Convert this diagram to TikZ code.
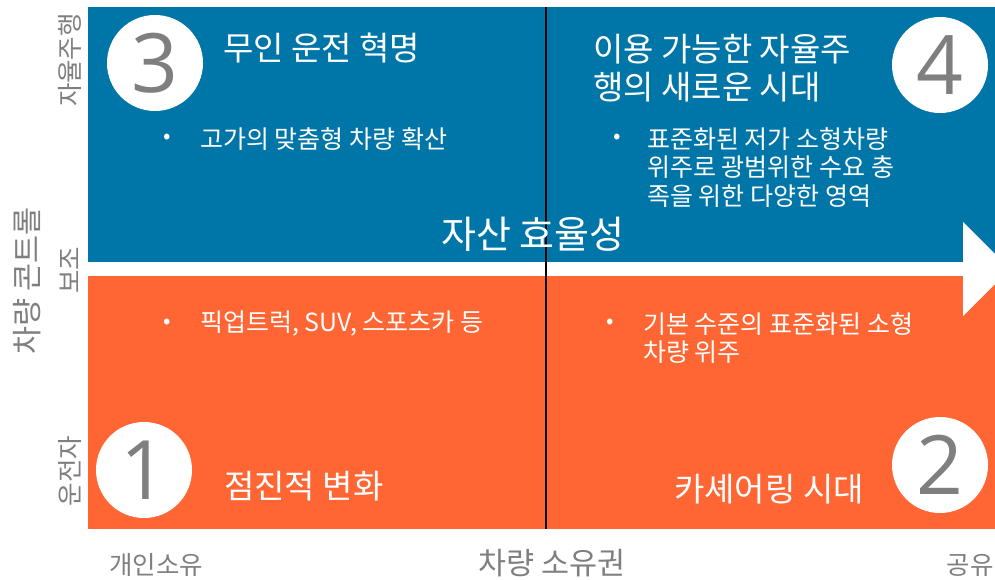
\documentclass[tikz,border=0pt]{standalone}
\usepackage{fontspec}
\setmainfont{Noto Sans CJK KR}
\newfontfamily\numfont{Open Sans}
\definecolor{qblue}{HTML}{0076A8}
\definecolor{qorange}{HTML}{FF6633}
\definecolor{qgray}{HTML}{7F7F7F}
\tikzset{
  numcircle/.style={circle, fill=white, minimum size=96pt, inner sep=0pt, text=qgray, font=\numfont\fontsize{82}{82}\selectfont},
  title/.style={text=white, inner sep=0pt, anchor=west, font=\fontsize{33}{38}\selectfont, align=left},
  bulletdot/.style={text=white, inner sep=0pt, font=\fontsize{22}{22}\selectfont},
  bodytext/.style={text=white, inner sep=0pt, anchor=north west, font=\fontsize{25}{28.5}\selectfont, align=left},
  axislabel/.style={text=qgray, inner sep=0pt, font=\fontsize{25.5}{25.5}\selectfont},
  axistitle/.style={text=qgray, inner sep=0pt, font=\fontsize{30.5}{31}\selectfont}
}
\begin{document}
\begin{tikzpicture}[x=1pt,y=-1pt]
\useasboundingbox (0,0) rectangle (995,579);
\clip (0,0) rectangle (995,579);
% quadrants
\fill[qblue] (88,7) rectangle (995,262);
\fill[qorange] (88,276) rectangle (995,529);
% arrow head
\fill[white] (963,222) -- (1010,269) -- (963,316) -- cycle;
% vertical divider
\coordinate (vtop) at (546,7);
\coordinate (vbot) at (546,529);
\draw[line width=1.5pt, black] (vtop) -- (vbot);
% circles
\node[numcircle] (c3) at (155,63) {3};
\node[numcircle] (c4) at (940,65) {4};
\node[numcircle] (c1) at (144,470) {1};
\node[numcircle] (c2) at (940,465) {2};
% titles
\node[title] (t3) at (223,48) {무인 운전 혁명};
\node[title, anchor=north west] (t4) at (593,34) {이용 가능한 자율주\\행의 새로운 시대};
\node[title] (t1) at (224,486) {점진적 변화};
\node[title] (t2) at (674,489) {카셰어링 시대};
\node[text=white, inner sep=0pt, font=\fontsize{38}{38}\selectfont] (asset) at (533,234) {자산 효율성};
% bullets
\node[bulletdot] (b3) at (167,139) {•};
\node[bodytext, anchor=west] (x3) at (200,139) {고가의 맞춤형 차량 확산};
\node[bulletdot] (b4) at (617,139) {•};
\node[bodytext] (x4) at (647,127) {표준화된 저가 소형차량\\위주로 광범위한 수요 충\\족을 위한 다양한 영역};
\node[bulletdot] (b1) at (167,324) {•};
\node[bodytext, anchor=west] (x1) at (200,324) {픽업트럭, SUV, 스포츠카 등};
\node[bulletdot] (b2) at (610,324) {•};
\node[bodytext] (x2) at (643,312) {기본 수준의 표준화된 소형\\차량 위주};
% axis labels
\node[axislabel, rotate=90] (ya) at (70,60) {자율주행};
\node[axislabel, rotate=90] (yb) at (70,270) {보조};
\node[axislabel, rotate=90] (yc) at (70,471) {운전자};
\node[axistitle, rotate=90] (ytitle) at (27,281) {차량 콘트롤};
\node[axislabel] (xa) at (156,565) {개인소유};
\node[axistitle] (xtitle) at (552,563) {차량 소유권};
\node[axislabel] (xb) at (970,565) {공유};
\end{tikzpicture}
\end{document}
